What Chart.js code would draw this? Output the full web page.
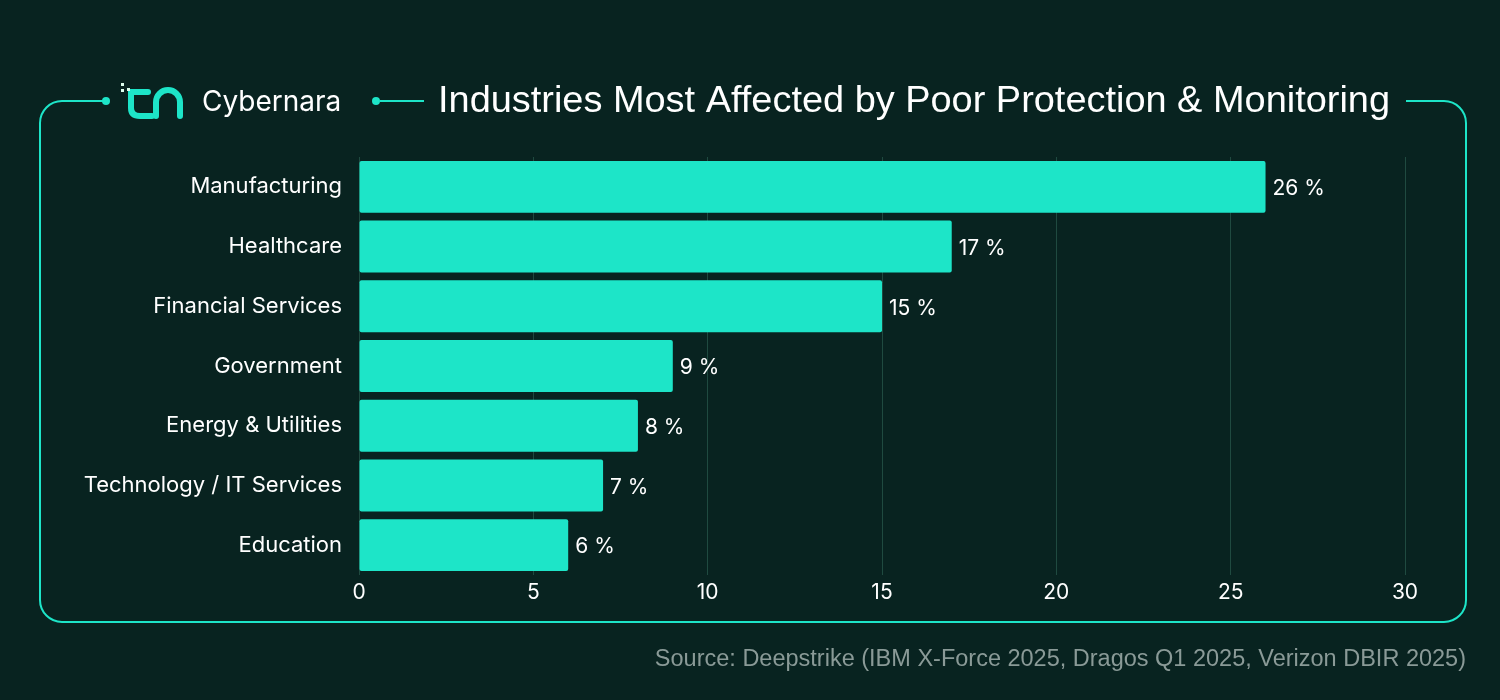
<!DOCTYPE html>
<html><head><meta charset="utf-8">
<script src="https://cdn.jsdelivr.net/npm/chart.js@4"></script>
<style>html,body{margin:0;background:#082320;}#w{width:1500px;height:700px;position:relative}</style>
</head><body><div id="w"><canvas id="c" width="1500" height="700"></canvas></div>
<script>
const categories=["Manufacturing","Healthcare","Financial Services","Government","Energy & Utilities","Technology / IT Services","Education"];
const values=[26,17,15,9,8,7,6];
const xTicks=[0,5,10,15,20,25,30];
const TEAL='#1de5c8';
const deco={id:'deco',afterDraw(ch){
 const c=ch.ctx;c.save();
 c.strokeStyle=TEAL;c.lineWidth=2;
 const L=40,T=101,R=1466,B=622,r=22;
 c.beginPath();c.moveTo(103,T);c.lineTo(L+r,T);c.arcTo(L,T,L,T+r,r);c.lineTo(L,B-r);c.arcTo(L,B,L+r,B,r);c.lineTo(R-r,B);c.arcTo(R,B,R,B-r,r);c.lineTo(R,T+r);c.arcTo(R,T,R-r,T,r);c.lineTo(1406,T);c.stroke();
 c.beginPath();c.moveTo(380,T);c.lineTo(424,T);c.stroke();
 c.fillStyle=TEAL;
 [[106,T],[376,T]].forEach(p=>{c.beginPath();c.arc(p[0],p[1],4,0,7);c.fill();});
 c.lineWidth=6;c.lineCap='round';c.strokeStyle=TEAL;
 c.beginPath();c.moveTo(131,92);c.lineTo(148,92);c.stroke();
 c.beginPath();c.moveTo(131,92);c.lineTo(131,108);c.quadraticCurveTo(131,116,140,116);c.lineTo(152,116);c.stroke();
 c.beginPath();c.moveTo(156,116);c.lineTo(156,102);c.arc(168,102,12,Math.PI,0);c.lineTo(180,116);c.stroke();
 c.fillStyle='#dfe';c.fillRect(121,83,3,3);c.fillRect(127,88,3,3);c.fillRect(121,89,3,3);
 c.fillStyle='#fff';c.font='28px Inter, "Open Sans", sans-serif';c.textBaseline='middle';
 c.fillText('Cybernara',202,103);
 c.font='36px "Liberation Sans", Arial, sans-serif';
 const t='Industries Most Affected by Poor Protection & Monitoring';
 const w=c.measureText(t).width;c.save();c.translate(438,102);c.scale(952/w,1);c.fillText(t,0,0);c.restore();
 c.fillStyle='#8a9a97';c.font='23.5px "Liberation Sans", Arial, sans-serif';c.textAlign='right';
 c.fillText('Source: Deepstrike (IBM X-Force 2025, Dragos Q1 2025, Verizon DBIR 2025)',1466,660);
 const m=ch.getDatasetMeta(0);c.textAlign='left';c.fillStyle='#fff';c.font='21px Inter, "Open Sans", sans-serif';
 m.data.forEach((b,i)=>c.fillText(values[i]+' %',b.x+7,b.y+2));
 c.restore();}};
new Chart(document.getElementById('c'),{type:'bar',
 data:{labels:categories,datasets:[{data:values,backgroundColor:TEAL,borderRadius:2,borderSkipped:false,categoryPercentage:0.87,barPercentage:1}]},
 options:{indexAxis:'y',responsive:false,animation:false,
  layout:{padding:{left:0,right:95,top:157,bottom:0}},
  plugins:{legend:{display:false},tooltip:{enabled:false}},
  scales:{
   x:{min:0,max:30,afterBuildTicks(s){s.ticks=xTicks.map(v=>({value:v}));},afterFit(s){s.height=125;},
      grid:{color:'#1f4a40',drawTicks:false},border:{display:false},
      ticks:{color:'#fff',padding:5,font:{size:21,family:'Inter, "Open Sans", sans-serif'}}},
   y:{afterFit(s){s.width=359;},grid:{display:false},border:{display:false},
      ticks:{color:'#fff',padding:9,font:{size:22,family:'Inter, "Open Sans", sans-serif'}}}
  }},plugins:[deco]});
</script></body></html>
